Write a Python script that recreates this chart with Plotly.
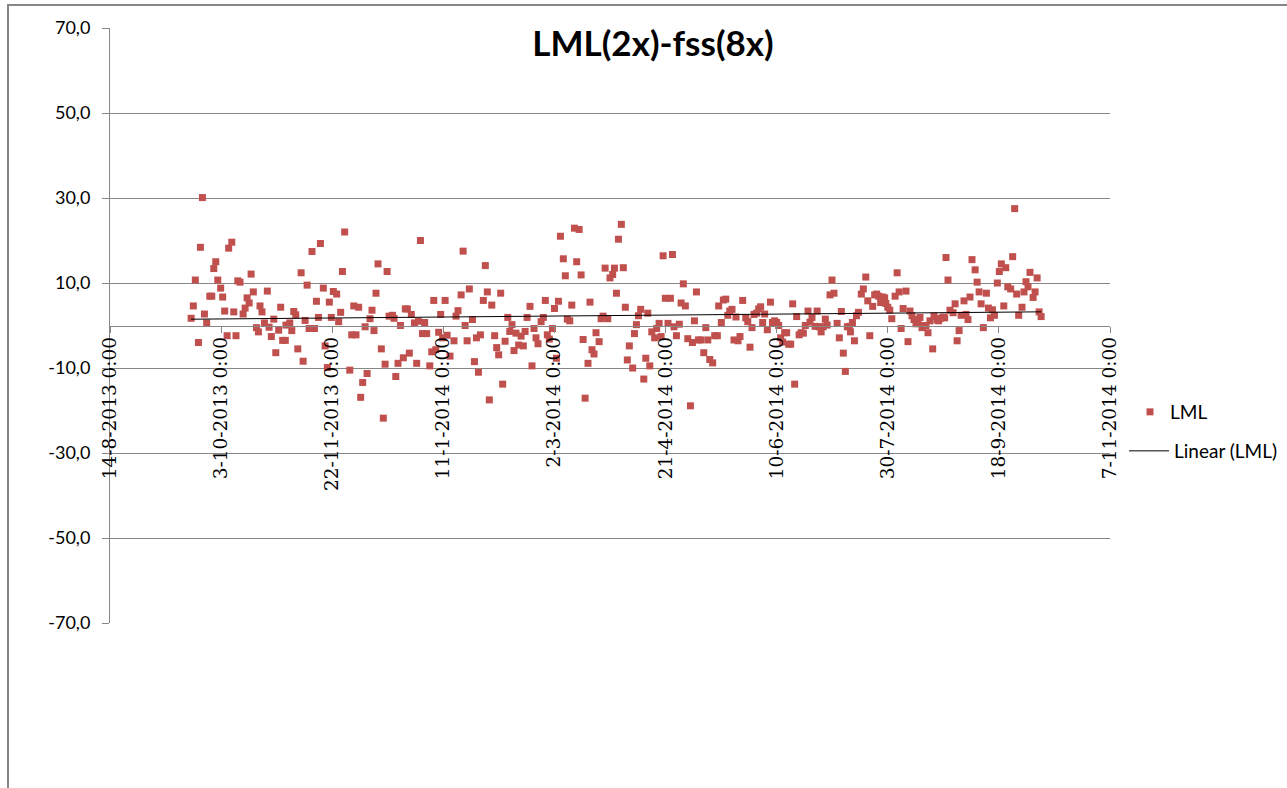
import numpy as np
import pandas as pd
import plotly.graph_objects as go

START_DATE = "2013-08-14"

DAY_OFFSETS = [
    36.5, 37.5, 38.4, 39.8, 40.7, 41.6, 42.5, 43.5, 44.9, 45.8, 46.7, 47.6, 48.5, 49.8, 50.7,
    51.6, 52.7, 53.4, 54.8, 55.7, 56.7, 57.5, 58.5, 59.9, 60.8, 61.7, 62.6, 63.5, 64.5, 65.9,
    66.8, 67.5, 68.4, 69.5, 70.8, 71.6, 72.6, 73.7, 74.6, 75.9, 76.8, 77.7, 78.9, 79.2,
    80.9, 81.8, 82.7, 83.6, 84.5, 86.0, 86.9, 87.8, 88.7, 89.6, 90.9, 92.0, 92.9, 93.8, 94.7,
    96.0, 96.8, 97.8, 98.7, 99.6, 100.5, 102.0, 102.9, 103.8, 104.6, 105.6, 107.9, 108.8, 109.7, 110.7,
    111.9, 112.8, 113.7, 114.8, 115.7, 117.0, 117.9, 118.8, 119.7, 120.6, 122.1, 123.0, 123.8, 124.7, 125.6,
    127.1, 127.8, 128.6,
    129.6, 130.7, 132.0, 132.9, 133.8, 134.7, 135.6, 137.0, 138.0, 138.8, 139.7, 140.6, 141.6, 142.5, 143.9,
    144.8, 145.7, 146.6, 147.9, 148.8, 149.7, 150.8, 151.7, 153.0, 154.8, 155.7, 156.6, 158.0, 158.9, 159.8,
    160.7, 161.7, 163.1, 164.0, 164.9, 165.8, 166.7, 168.0, 168.9, 169.8, 170.7, 171.8, 173.1, 174.0, 174.9,
    175.8, 176.7,
    177.8, 179.0, 179.9, 180.9, 181.8, 182.7, 183.9, 185.0, 186.0, 186.8, 187.7, 189.0, 189.9, 190.8, 191.7,
    192.6, 194.0, 195.0, 195.9, 196.8, 197.7, 199.1, 200.0, 200.9, 201.8, 202.7, 204.0, 204.9, 205.8, 206.9,
    207.8, 209.0, 210.0, 211.1, 212.0, 212.9, 213.8, 215.1, 216.0, 216.9, 217.8, 218.7, 220.1, 221.0, 221.9,
    222.8, 224.0, 225.0,
    226.2, 227.0, 227.9, 228.8, 230.1, 231.0, 231.9, 232.8, 233.7, 235.2, 236.0, 236.9, 237.8, 238.8, 240.2,
    241.1, 242.0, 242.9, 243.8, 245.1, 246.0, 247.1, 248.0, 248.9, 249.9, 251.1, 252.2, 253.1, 253.8, 254.9,
    256.2, 257.0, 258.0, 258.9, 260.0, 261.2, 262.1, 263.0, 263.9, 264.8, 265.8, 267.2, 268.1, 269.0, 269.9,
    271.2, 272.1, 273.3, 273.9,
    275.1, 276.0, 277.1, 278.0, 278.9, 279.9, 280.8, 281.7, 282.6, 283.5, 284.7, 286.1, 287.0, 288.0, 288.9,
    289.8, 291.0, 291.9, 292.8, 293.7, 294.6, 295.8, 297.2, 298.1, 299.1, 300.0, 300.9, 301.8, 302.7, 303.6,
    304.5, 305.4, 306.3, 307.2, 308.1, 309.0, 310.1, 311.0, 312.0, 312.9, 314.1, 315.0, 315.9, 317.3, 318.2,
    319.1, 320.0, 320.9, 321.9, 322.7,
    324.0, 324.9, 325.8, 327.2, 328.2, 329.1, 330.0, 330.9, 331.8, 332.7, 333.2, 334.1, 335.0, 335.9, 336.8,
    338.1, 339.0, 340.1, 341.0, 341.9, 343.2, 344.1, 345.0, 345.9, 346.8, 347.7, 348.6, 349.1, 350.0, 350.9,
    351.8, 353.3, 354.2, 355.1, 356.0, 356.9, 358.2, 359.1, 360.0, 360.9, 361.8, 362.7, 363.6, 364.5, 365.4,
    366.3, 367.2, 368.1, 369.0, 370.2, 370.8,
    372.2, 372.9, 373.8, 374.9, 375.6, 376.2, 377.1, 378.0, 379.4, 380.3, 381.2, 382.1, 383.0, 384.3, 385.2,
    386.1, 387.0, 387.9, 389.3, 390.2, 391.1, 392.0, 393.0, 394.4, 395.3, 396.2, 397.1, 398.0, 399.3, 400.2,
    401.1, 402.2, 403.1, 404.0, 405.3, 406.2, 407.1, 408.0, 408.9, 410.4, 411.3, 412.2, 413.1, 414.0, 415.4,
    416.3, 417.2, 418.1, 419.0,
]

LML_VALUES = [
    1.7, 4.6, 10.7, -4.0, 18.4, 30.1, 2.7, 0.6, 6.9, 6.9, 13.4, 15.0, 10.7, 8.8, 6.7,
    3.4, -2.4, 18.2, 19.6, 3.2, -2.4, 10.5, 10.2, 2.7, 4.1, 6.5, 5.3, 12.1, 7.9, -0.5,
    -1.5, 4.6, 3.2, 0.6, 8.1, -0.4, -2.6, 1.5, -6.4, -1.1, 4.3, -3.5, -3.5, 0.1,
    0.6, -1.2, 3.3, 2.5, -5.5, 12.4, -8.4, 1.2, 9.5, -0.7, 17.4, -0.7, 5.7, 1.9, 19.3,
    8.8, -4.8, -9.9, 5.5, 1.9, 8.0, 7.4, 0.9, 3.1, 12.7, 22.0, -10.5, -2.2, 4.6, -2.2,
    4.3, -16.9, -13.4, -0.3, -11.3, 1.6, 3.6, -1.2, 7.6, 14.5, -5.5, -21.8, -9.1, 12.7, 2.2,
    2.4, 1.7, -12.0,
    -8.9, 0.0, -7.6, 3.9, 3.9, -6.5, 2.6, 0.6, -8.9, 1.0, 20.0, -1.9, 0.7, -1.9, -9.5,
    -6.2, 5.9, -5.7, -1.6, 2.6, -2.9, 5.9, -2.3, -7.2, -3.6, 2.2, 3.5, 7.2, 17.5, 0.0,
    -3.6, 8.6, 1.4, -8.5, -2.9, -11.0, -2.2, 5.9, 14.1, 7.9, -17.5, 4.8, -2.4, -5.2, -6.9,
    7.6, -13.8,
    -3.7, 1.9, -1.4, 0.2, -5.9, -1.8, -4.6, -2.5, -4.8, -1.4, 1.9, 4.5, -9.5, -0.7, -2.9,
    -4.3, 0.9, 1.9, 5.9, -2.2, -3.2, -0.7, 4.0, -7.7, 5.7, 21.0, 15.7, 11.7, 1.5, 1.1,
    4.8, 22.9, 15.0, 22.6, 11.9, -3.3, -17.1, -8.9, 5.5, -5.7, -6.7, -1.7, -3.8, 1.6, 2.2,
    13.5, 1.6, 11.2,
    12.0, 13.5, 7.6, 20.3, 23.8, 13.6, 4.3, -8.1, -4.8, -10.0, -1.9, 0.2, 2.3, 3.8, -12.6,
    -7.7, 2.9, -9.5, -1.5, -2.9, -0.7, 0.5, -2.6, 16.4, 6.4, 0.5, 6.4, 16.7, -0.3, -2.4,
    0.3, 5.3, 9.8, 4.6, -3.1, -18.9, -4.0, 1.1, 7.9, -3.4, -3.4, -6.4, -0.5, -3.4, -8.0,
    -8.8, -2.4, -2.4, 4.6,
    0.7, 6.0, 6.2, 2.4, 3.4, 3.8, -3.4, 2.0, -3.6, -2.6, 5.9, 1.8, 0.9, -5.1, -0.5,
    2.6, 2.9, 3.9, 4.4, 0.7, 2.7, -1.0, 5.5, 0.7, 1.1, 0.7, 0.0, -2.9, -3.9, -1.7,
    -1.7, -4.4, -4.4, 5.1, -13.8, 2.1, -2.2, -1.7, -1.8, 0.0, 3.4, 0.8, 1.9, -0.2, 3.4,
    -0.3, -1.5, -0.3, 1.5, 0.1,
    7.2, 10.7, 7.6, 0.5, -2.9, 3.3, -6.5, -10.8, -0.3, -0.2, -1.5, 0.7, -3.6, 2.3, 3.1,
    7.4, 8.6, 11.4, 5.8, -2.4, 4.5, 7.2, 7.4, 6.9, 5.4, 6.7, 6.5, 5.2, 4.3, 3.6,
    1.6, 6.9, 12.4, 7.9, -0.7, 4.0, 8.1, -3.8, 3.4, 2.3, 1.4, 0.4, 0.6, 1.9, -0.5,
    0.0, 0.0, -1.7, 1.1, -5.5, 2.2,
    1.3, 1.1, 1.7, 2.0, 1.8, 16.0, 10.7, 3.6, 3.0, 5.1, -3.6, -1.2, 2.4, 5.8, 2.6,
    1.4, 6.7, 15.5, 13.1, 10.2, 7.9, 5.1, -0.5, 7.6, 4.1, 1.8, 3.7, 2.4, 10.0, 12.7,
    14.5, 4.6, 13.6, 9.1, 8.6, 16.2, 27.5, 7.4, 2.4, 4.3, 7.9, 10.3, 9.1, 12.5, 6.6,
    7.9, 11.2, 3.2, 2.1,
]

X_TICK_VALUES = ["2013-08-14", "2013-10-03", "2013-11-22", "2014-01-11", "2014-03-02",
                 "2014-04-21", "2014-06-10", "2014-07-30", "2014-09-18", "2014-11-07"]
X_TICK_TEXT = ["14-8-2013 0:00", "3-10-2013 0:00", "22-11-2013 0:00", "11-1-2014 0:00",
               "2-3-2014 0:00", "21-4-2014 0:00", "10-6-2014 0:00", "30-7-2014 0:00",
               "18-9-2014 0:00", "7-11-2014 0:00"]
Y_TICK_VALUES = [-70, -50, -30, -10, 10, 30, 50, 70]
Y_TICK_TEXT = ["-70,0", "-50,0", "-30,0", "-10,0", "10,0", "30,0", "50,0", "70,0"]

TITLE = "LML(2x)-fss(8x)"

assert len(DAY_OFFSETS) == len(LML_VALUES)

start = pd.Timestamp(START_DATE)
days = np.array(DAY_OFFSETS)
vals = np.array(LML_VALUES)
dates = start + pd.to_timedelta(days, unit="D")

# linear trendline (least squares), spanning the data range
slope, intercept = np.polyfit(days, vals, 1)
trend_days = np.array([days.min(), days.max()])
trend_dates = start + pd.to_timedelta(trend_days, unit="D")
trend_vals = slope * trend_days + intercept

W, H = 1287, 788
L, T = 110, 28
pw, ph = 1000, 595
R, B = W - L - pw, H - T - ph

def px_x(p):
    return (p - L) / pw

def px_y(p):
    return (T + ph - p) / ph

GRID = "#878787"
SANS = "Lato, 'Liberation Sans', sans-serif"

fig = go.Figure()
fig.add_trace(go.Scatter(
    x=dates, y=vals, mode="markers", name="LML",
    marker=dict(symbol="square", size=7, color="#C0504D"),
    legend="legend",
))
fig.add_trace(go.Scatter(
    x=trend_dates, y=trend_vals, mode="lines", name="Linear (LML)",
    line=dict(color="#000000", width=1),
    legend="legend2",
))

fig.update_layout(
    width=W, height=H,
    margin=dict(l=L, r=R, t=T, b=B, autoexpand=False),
    paper_bgcolor="white", plot_bgcolor="white",
    title=dict(text=TITLE, x=653 / W, xref="container", xanchor="center",
               y=1 - 44 / H, yref="container", yanchor="middle",
               font=dict(family=SANS, size=35, color="#000000", weight="bold")),
    xaxis=dict(
        type="date",
        range=[X_TICK_VALUES[0], X_TICK_VALUES[-1]],
        tickmode="array", tickvals=X_TICK_VALUES, ticktext=X_TICK_TEXT,
        tickangle=-90,
        anchor="free", position=0.5,
        showgrid=False, zeroline=False,
        showline=True, linecolor=GRID, linewidth=1,
        ticks="outside", ticklen=6, tickcolor=GRID, tickwidth=1,
        ticklabelstandoff=-3,
        tickfont=dict(family="'DejaVu Serif', serif", size=18.5, color="#000000"),
    ),
    yaxis=dict(
        range=[-70, 70],
        tickmode="array", tickvals=Y_TICK_VALUES, ticktext=Y_TICK_TEXT,
        showgrid=True, gridcolor=GRID, gridwidth=1,
        zeroline=False,
        showline=True, linecolor=GRID, linewidth=1,
        ticks="outside", ticklen=7, tickcolor=GRID, tickwidth=1,
        ticklabelstandoff=8,
        tickfont=dict(family=SANS, size=18, color="#000000"),
    ),
    legend=dict(x=px_x(1130), y=px_y(412), xanchor="left", yanchor="middle",
                bgcolor="rgba(0,0,0,0)", font=dict(family=SANS, size=19, color="#000000"),
                itemwidth=30),
    legend2=dict(x=px_x(1124), y=px_y(451), xanchor="left", yanchor="middle",
                 bgcolor="rgba(0,0,0,0)", font=dict(family=SANS, size=19, color="#000000"),
                 itemwidth=40),
    showlegend=True,
    shapes=[dict(type="rect", xref="paper", yref="paper",
                 x0=px_x(8), x1=px_x(1300), y0=px_y(820), y1=px_y(5),
                 line=dict(color="#868686", width=2), fillcolor="rgba(0,0,0,0)",
                 layer="below")],
)

# remove the default 8px page margin so the figure sits at the window origin
fig.write_html("out.html", config={"displayModeBar": False},
               post_script="document.body.style.margin='0px';")
